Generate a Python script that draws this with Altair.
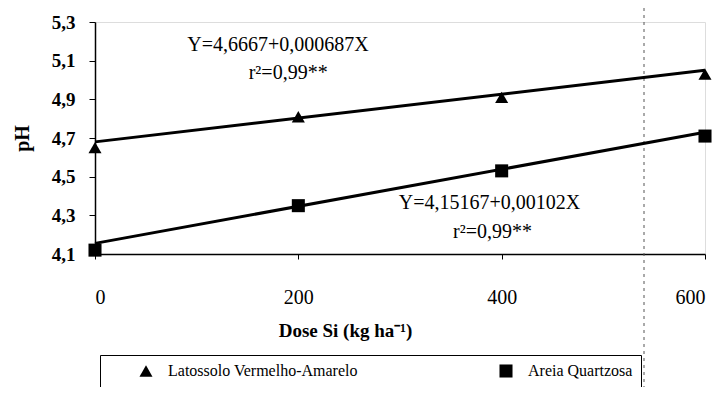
import altair as alt
import pandas as pd

# ---- values ----
dose = [0, 200, 400, 600]
ph_latossolo = [4.65, 4.81, 4.91, 5.03]
ph_areia = [4.12, 4.35, 4.53, 4.71]
fit_dose = [0, 600]
fit_latossolo = [4.68, 5.05]
fit_areia = [4.155, 4.73]
soils = ["Latossolo Vermelho-Amarelo", "Areia Quartzosa"]
shapes = ["triangle-up", "square"]
eq_text = ["Y=4,6667+0,000687X", "r²=0,99**", "Y=4,15167+0,00102X", "r²=0,99**"]
eq_x = [180, 190, 388, 391]
eq_y = [5.181, 5.036, 4.364, 4.214]
y_ticks = [4.1, 4.3, 4.5, 4.7, 4.9, 5.1, 5.3]
x_ticks = [0, 200, 400, 600]
fold_x = [540]

FONT = "Liberation Serif"

pts = pd.DataFrame({
    "dose": dose * 2,
    "ph": ph_latossolo + ph_areia,
    "solo": [soils[0]] * len(dose) + [soils[1]] * len(dose),
})
fits = pd.DataFrame({
    "dose": fit_dose * 2,
    "ph": fit_latossolo + fit_areia,
    "solo": [soils[0]] * 2 + [soils[1]] * 2,
})
eqs = pd.DataFrame({"dose": eq_x, "ph": eq_y, "txt": eq_text})
fold = pd.DataFrame({"dose": fold_x})

xscale = alt.Scale(domain=[0, 600], nice=False)
yscale = alt.Scale(domain=[4.1, 5.3], nice=False, zero=False)

x_enc = alt.X(
    "dose:Q", scale=xscale,
    axis=alt.Axis(
        values=x_ticks, title="Dose Si (kg ha⁻¹)", grid=False, labelOverlap=False,
        domainColor="black", domainWidth=1.5, tickColor="black", tickSize=5,
        labelFont=FONT, labelFontSize=20, labelColor="black", labelPadding=28,
        titleFont=FONT, titleFontSize=19, titleFontWeight="bold", titleColor="black",
        titleX=250, titleY=76, titleBaseline="middle", titleAlign="center",
    ),
)
y_enc = alt.Y(
    "ph:Q", scale=yscale,
    axis=alt.Axis(
        values=y_ticks, labelExpr="replace(format(datum.value, '.1f'), '.', ',')",
        title="pH", grid=False, labelOverlap=False, labelBound=False,
        domainColor="black", domainWidth=1.5, tickColor="black", tickSize=6,
        labelFont=FONT, labelFontSize=19, labelFontWeight="bold", labelColor="black",
        labelPadding=14,
        titleFont=FONT, titleFontSize=20, titleFontWeight="bold", titleColor="black",
        titlePadding=19,
    ),
)

fold_rule = alt.Chart(fold).mark_rule(
    color="#555", strokeDash=[3, 4], strokeWidth=1, clip=False
).encode(x=x_enc, y=alt.value(-14), y2=alt.value(370))

lines = alt.Chart(fits).mark_line(color="black", strokeWidth=3, clip=False).encode(
    x=x_enc, y=y_enc, detail="solo:N"
)

points = alt.Chart(pts).mark_point(
    filled=True, opacity=1, color="black", size=170, clip=False
).encode(
    x=x_enc,
    y=y_enc,
    shape=alt.Shape(
        "solo:N", scale=alt.Scale(domain=soils, range=shapes),
        legend=alt.Legend(
            title=None, orient="none", legendX=5, legendY=333, direction="horizontal",
            strokeColor="black", padding=8, columnPadding=110, symbolSize=170,
            symbolFillColor="black", symbolStrokeWidth=0, symbolOffset=30,
            labelFont=FONT, labelFontSize=16, labelColor="black", labelLimit=400,
            labelOffset=14,
        ),
    ),
)

texts = alt.Chart(eqs).mark_text(
    font=FONT, fontSize=20, color="black", align="center", baseline="middle"
).encode(x=x_enc, y=y_enc, text="txt:N")

chart = alt.layer(fold_rule, lines, points, texts).properties(
    width=610, height=232,
    autosize=alt.AutoSizeParams(type="none"),
    padding={"left": 87, "top": 14, "right": 7, "bottom": 133},
).configure_view(stroke=None).configure(background="white").configure_legend(
    labelFont=FONT, labelFontSize=16
).configure_axis(labelOverlap=False)

chart.save("out.html", embed_options={"renderer": "svg", "actions": False})
